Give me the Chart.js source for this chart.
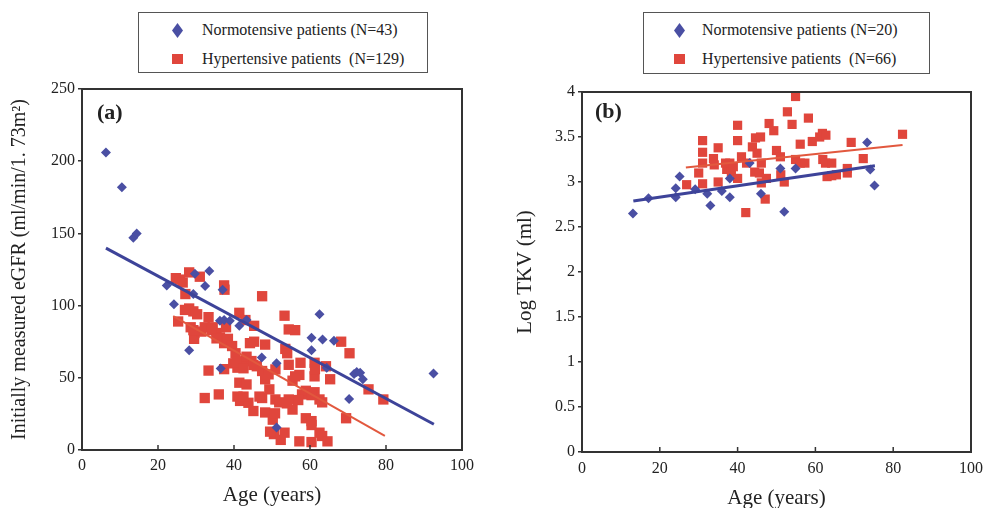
<!DOCTYPE html>
<html>
<head>
<meta charset="utf-8">
<script src="https://cdn.jsdelivr.net/npm/chart.js@4.4.1/dist/chart.umd.min.js"></script>
<style>
html,body{margin:0;padding:0;background:#fff;overflow:hidden;width:983px;height:508px;}
.panel{position:absolute;top:0;}
#wrapA{left:0;width:490px;height:508px;}
#wrapB{left:490px;width:513px;height:512px;}
.legend{position:absolute;border:1.5px solid #555;background:#fff;font-family:"Liberation Serif","Times New Roman",serif;font-size:16px;color:#222;box-sizing:border-box;}
.row{position:absolute;height:20px;line-height:20px;white-space:nowrap;}
.dia{position:absolute;width:11px;height:15px;background:#4a4fa3;clip-path:polygon(50% 0,100% 50%,50% 100%,0 50%);}
.sq{position:absolute;width:11px;height:10px;background:#e0463c;}
</style>
</head>
<body>
<div class="panel" id="wrapA"><canvas id="chartA" width="490" height="508"></canvas></div>
<div class="panel" id="wrapB"><canvas id="chartB" width="513" height="512"></canvas></div>

<div class="legend" style="left:138px;top:12px;width:290px;height:61px;">
  <div class="dia" style="left:33px;top:10px;"></div>
  <div class="row" style="left:63px;top:7px;">Normotensive patients (N=43)</div>
  <div class="sq" style="left:33px;top:41px;"></div>
  <div class="row" style="left:63px;top:36px;">Hypertensive patients&nbsp; (N=129)</div>
</div>
<div class="legend" style="left:643px;top:12px;width:287px;height:62px;">
  <div class="dia" style="left:30px;top:10px;"></div>
  <div class="row" style="left:58px;top:7px;">Normotensive patients (N=20)</div>
  <div class="sq" style="left:30px;top:41px;"></div>
  <div class="row" style="left:58px;top:36px;">Hypertensive patients&nbsp; (N=66)</div>
</div>

<script>
// ---------- DATA ----------
const xTicks = [0, 20, 40, 60, 80, 100];
const yTicksA = [0, 50, 100, 150, 200, 250];
const yTicksB = [0, 0.5, 1, 1.5, 2, 2.5, 3, 3.5, 4];

// Panel (a): eGFR vs age
const ageNormoA = [6.3,10.5,13.5,14.4,22.3,24.2,28.2,29.3,29.7,32.4,33.5,37,36.5,36.3,37.4,38.9,41.4,43.3,47.3,51.2,51.2,62.5,60.4,60.4,63.3,66.3,64.4,71.6,72.3,73.2,73.9,70.3,92.5];
const egfrNormoA = [206,182,147,150,114,101,69,108,122,113.6,124,111,56.5,89.5,90,89.5,86,90,64,60,15.5,94,77.7,69,76.6,75.7,57,52.6,54,53.5,49,35.3,53];

const ageHyperA = [24.7,25.8,26.5,25.3,27.2,28.2,31,28.2,29.3,30.3,28.6,29.6,29.5,31.4,32.3,33.3,34.4,35.4,36.3,37.4,38.4,37.9,37.4,37.5,33.3,32.3,36,37.4,39.5,40.4,39.8,40.9,41.4,43,45.3,44.2,45.3,48.2,47.4,41.4,43.3,40.9,41.6,43.8,45.1,43,44.6,46,47.4,49.1,50.9,48.2,49.3,47.4,48.2,50.2,50.9,51.9,50.5,52.3,53.3,53.3,53.5,54,54.4,56.1,54.4,55.4,56.1,57.2,54.4,55.4,57.5,57.9,58.9,58.9,60.4,61.2,61.2,61.2,57.2,60.4,62.5,63.2,64.6,64.2,65.3,62.5,63.2,68.2,70.4,69.5,75.4,79.3,27.1,29.3,34.1,35.4,43.3,40.7,42.5,45.1,42.5,46.7,50.8,53.9,56.9,60.4,60.4,49.5,61.3];
const egfrHyperA = [119,118,116,89,108,123,120,98,96,94,85,81,77,82,85,92,85,81,78,74,77,85,114,111,55,36,38.5,56,72,67,60,57,95,90,86,74,75,73,106.5,46.6,45.4,37,34,32.7,27,61.6,61.6,58,54.7,52.4,55.8,49,42,36,26,21,35,33,11,7,12,93,70,67,83.5,83,59,48,51,52,35,28,60.4,38.5,41,22,20,40,60.4,51,6,5.5,12,9.7,6,58,49,35,33,75,67,22,42,35,97,83,83,77.3,64.6,61,56.6,58.9,37,37,25.4,32.3,34.6,38,17.3,12.7,56];

// Regression lines (a)
const fitNormoAx = [6.3, 92.6];
const fitNormoAy = [139.8, 17.8];
const fitHyperAx = [24, 79.7];
const fitHyperAy = [92.7, 9.8];

// Panel (b): Log TKV vs age
const ageNormoB = [13.1,17.1,24.1,24.1,25.1,29.1,32.2,33.0,35.95,38,38,43.1,46,51,52,54.9,73.3,74.1,75.2];
const tkvNormoB = [2.65,2.82,2.93,2.83,3.06,2.92,2.87,2.74,2.90,3.04,2.83,3.21,2.87,3.15,2.67,3.15,3.44,3.14,2.96];

const ageHyperB = [26.9,30,31,31,31,31,33.8,34,35,35,36.9,37.2,38,38.4,38.9,40,40,40,41,42.1,42.3,43.8,44.6,45.9,45,44.4,45.6,46.1,46.1,47.1,47.4,48.1,49.3,50,51,51.1,52,52.8,54,54.9,54.9,56.1,56.1,57.3,58.2,59.2,61.1,61.8,62.7,61.9,62.6,63,64.2,64.2,65.4,68.2,68.2,69.2,72.3,82.4];
const tkvHyperB = [2.97,3.10,3.46,3.33,3.21,2.98,3.26,3.19,3.38,3.00,3.21,3.14,3.21,3.11,3.17,3.63,3.46,3.04,3.28,2.66,3.21,3.39,3.49,3.50,3.32,3.11,3.10,3.21,2.99,2.81,3.04,3.65,3.57,3.35,3.28,3.08,3.00,3.78,3.64,3.95,3.25,3.42,3.21,3.21,3.71,3.45,3.50,3.54,3.52,3.25,3.21,3.06,3.21,3.07,3.08,3.15,3.10,3.44,3.26,3.53];

// Regression lines (b)
const fitNormoBx = [13.2, 75.3];
const fitNormoBy = [2.79, 3.18];
const fitHyperBx = [26.7, 82.4];
const fitHyperBy = [3.16, 3.41];

// ---------- STYLE / BUILD ----------
const BLUE = '#4a4fa3', RED = '#e0463c', BLUE_LINE = '#3d4399', RED_LINE = '#e2583e';
const TXT = '#222';
Chart.defaults.font.family = '"Liberation Serif","Times New Roman",serif';
Chart.defaults.color = TXT;

const pts = (xs, ys) => xs.map((x, i) => ({x: x, y: ys[i]}));

const framePlugin = {
  id: 'frame',
  afterDraw(chart, args, opts) {
    const {ctx, chartArea: a, scales: {x}} = chart;
    ctx.save();
    ctx.strokeStyle = '#333';
    ctx.lineWidth = 2;
    ctx.strokeRect(a.left, a.top, a.right - a.left, a.bottom - a.top);
    ctx.lineWidth = 1.5;
    x.ticks.forEach(t => {
      const px = x.getPixelForValue(t.value);
      ctx.beginPath(); ctx.moveTo(px, a.bottom); ctx.lineTo(px, a.bottom - 5); ctx.stroke();
    });
    ctx.font = 'bold 22px "Liberation Serif"';
    ctx.fillStyle = TXT;
    ctx.textBaseline = 'middle';
    ctx.textAlign = 'left';
    ctx.fillText(opts.label, a.left + opts.dx, a.top + opts.dy);
    ctx.restore();
  }
};

function makeChart(id, cfg) {
  const tickList = arr => (s => { s.ticks = arr.map(v => ({value: v})); });
  return new Chart(document.getElementById(id), {
    type: 'scatter',
    data: {
      datasets: [
        {data: pts(cfg.fitNx, cfg.fitNy), showLine: true, borderColor: BLUE_LINE, borderWidth: 3, pointRadius: 0, order: 0},
        {data: pts(cfg.fitHx, cfg.fitHy), showLine: true, borderColor: RED_LINE, borderWidth: 2, pointRadius: 0, order: 0},
        {data: pts(cfg.hx, cfg.hy), pointStyle: 'rect', pointRadius: cfg.sqR, backgroundColor: RED, borderColor: RED, borderWidth: 0, order: 2},
        {data: pts(cfg.nx, cfg.ny), pointStyle: 'rectRot', pointRadius: 5, backgroundColor: BLUE, borderColor: BLUE, borderWidth: 0, order: 1}
      ]
    },
    options: {
      responsive: false,
      animation: false,
      events: [],
      layout: {padding: {left: 0, top: cfg.top, right: cfg.right, bottom: cfg.bottom}},
      plugins: {legend: {display: false}, tooltip: {enabled: false}, frame: {label: cfg.label, dx: cfg.ldx, dy: cfg.ldy}},
      scales: {
        x: {
          type: 'linear', min: 0, max: 100,
          afterBuildTicks: tickList(xTicks),
          afterFit: s => { s.height = cfg.xH; },
          grid: {drawOnChartArea: false, drawTicks: false},
          border: {display: false},
          ticks: {padding: cfg.xPad, maxRotation: 0, autoSkip: false, color: TXT, font: {size: 16}},
          title: {display: true, text: 'Age (years)', color: TXT, font: {size: 21}, padding: {top: 0, bottom: 0}}
        },
        y: {
          type: 'linear', min: cfg.ymin, max: cfg.ymax,
          afterBuildTicks: tickList(cfg.yTicks),
          afterFit: s => { s.width = cfg.yW; },
          grid: {drawOnChartArea: false, drawTicks: true, tickLength: 4, color: '#333', lineWidth: 1.5},
          border: {display: false},
          ticks: {padding: 3, autoSkip: false, color: TXT, font: {size: 16}, callback: v => String(v)},
          title: {display: true, text: cfg.yTitle, color: TXT, font: {size: cfg.yTitleSize}, padding: {top: cfg.yTitlePad, bottom: 0}}
        }
      }
    },
    plugins: [framePlugin]
  });
}

makeChart('chartA', {
  nx: ageNormoA, ny: egfrNormoA, hx: ageHyperA, hy: egfrHyperA,
  fitNx: fitNormoAx, fitNy: fitNormoAy, fitHx: fitHyperAx, fitHy: fitHyperAy,
  ymin: 0, ymax: 250, yTicks: yTicksA,
  top: 89, right: 28, bottom: 0, xH: 58, yW: 82, xPad: 6, sqR: 7.3,
  yTitle: 'Initially measured eGFR (ml/min/1. 73m²)', yTitleSize: 20, yTitlePad: 8,
  label: '(a)', ldx: 15, ldy: 24
});

makeChart('chartB', {
  nx: ageNormoB, ny: tkvNormoB, hx: ageHyperB, hy: tkvHyperB,
  fitNx: fitNormoBx, fitNy: fitNormoBy, fitHx: fitHyperBx, fitHy: fitHyperBy,
  ymin: 0, ymax: 4, yTicks: yTicksB,
  top: 92, right: 32, bottom: 1.4, xH: 58.6, yW: 92, xPad: 7, sqR: 6.5,
  yTitle: 'Log TKV (ml)', yTitleSize: 21, yTitlePad: 22.4,
  label: '(b)', ldx: 13, ldy: 20
});
</script>
</body>
</html>
